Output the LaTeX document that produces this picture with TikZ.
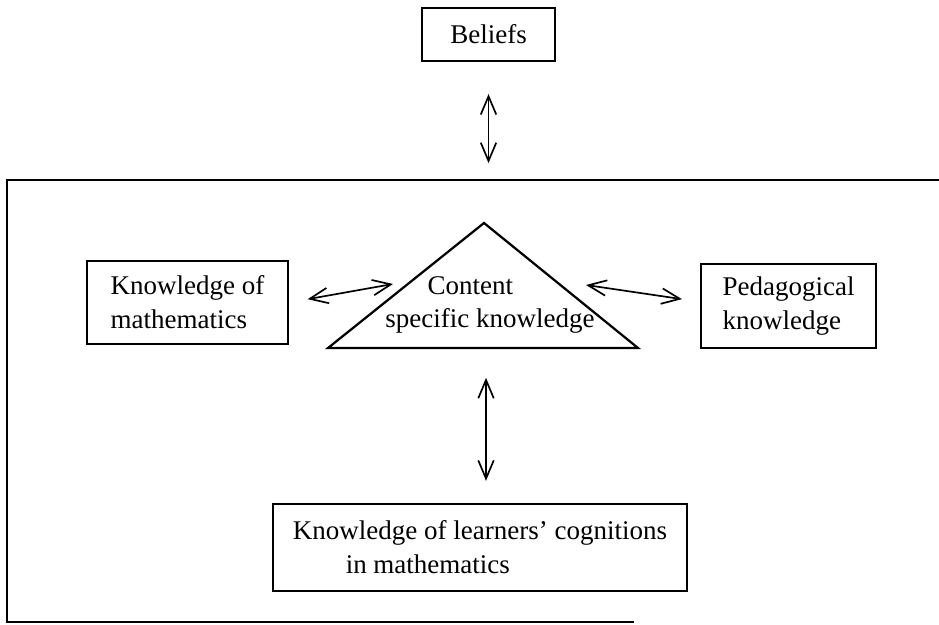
\documentclass[tikz,border=0pt]{standalone}
\usepackage{fontspec}
\setmainfont{Liberation Serif}
\usetikzlibrary{arrows.meta}
\begin{document}
\begin{tikzpicture}[x=0.0125cm, y=-0.0125cm, line width=0.8pt,
  box/.style={draw, inner sep=0pt, font=\fontsize{9.6}{12}\selectfont},
  arr/.style={{Straight Barb[length=6.5pt,width=5.5pt]}-{Straight Barb[length=6.5pt,width=5.5pt]}, line width=0.6pt}]
\useasboundingbox (0,0) rectangle (939,625);
% outer frame, open at the right
\coordinate (ftl) at (7,180);
\coordinate (fbl) at (7,622);
\draw (939,180) -- (ftl) -- (fbl) -- (634,622);
\node[box, minimum width=1.66cm, minimum height=0.66cm] (beliefs) at (488.5,34.5){Beliefs};
\node[box, minimum width=2.51cm, minimum height=1.04cm, align=left] (math) at (187.5,302.5){Knowledge of\\mathematics};
\node[box, minimum width=2.19cm, minimum height=1.05cm, align=left] (peda) at (788.5,306){Pedagogical\\knowledge};
\node[box, minimum width=5.175cm, minimum height=1.09cm, align=left] (learn) at (480,547.5){Knowledge of learners' cognitions\\\hspace*{0.66cm}in mathematics};
% content specific knowledge triangle
\coordinate (tapex) at (484,223);
\coordinate (tleft) at (328,348);
\coordinate (tright) at (638,348);
\draw[line join=miter] (tapex) -- (tleft) -- (tright) -- cycle;
\node[align=center, inner sep=0pt, font=\fontsize{9.6}{12}\selectfont] (csk) at (490,305){Content\hspace*{14pt}\\specific knowledge};
\coordinate (cl) at (393,284);
\coordinate (cr) at (586,285);
\coordinate (cb) at (486,348);
\draw[arr, shorten <=11.4pt, shorten >=6pt] (beliefs.south) -- (beliefs.south |- ftl);
\draw[arr, shorten <=6.7pt] (math.east) -- (cl);
\draw[arr, shorten >=6.4pt] (cr) -- ([yshift=1.5pt]peda.west);
\draw[arr, shorten <=10.6pt, shorten >=7.8pt] (cb) -- (cb |- learn.north);
\end{tikzpicture}
\end{document}
